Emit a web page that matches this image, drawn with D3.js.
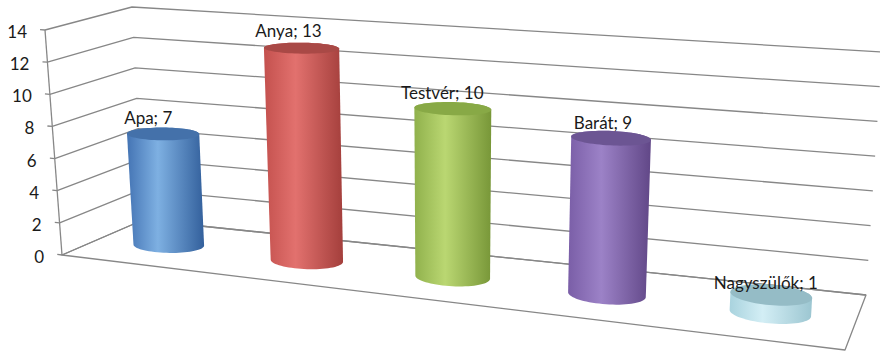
<!DOCTYPE html>
<html>
<head>
<meta charset="utf-8">
<script src="https://cdn.jsdelivr.net/npm/d3@7"></script>
<style>
  html, body { margin: 0; padding: 0; background: #fff; }
  svg { display: block; }
  text { font-family: Lato, "Open Sans", sans-serif; fill: #1a1a1a; }
</style>
</head>
<body>
<script>
// Who the respondents named (category -> count)
const categories = ["Apa", "Anya", "Testvér", "Barát", "Nagyszülők"];
const values = [7, 13, 10, 9, 1];
const tickValues = [0, 2, 4, 6, 8, 10, 12, 14];
const maxValue = 14;

// Cylinder colours: side gradient (edge, highlight, far edge) and top face
const sideLeft  = ["#4474b4", "#c4514e", "#90b14c", "#7a5ea7", "#a9d3de"];
const sideLight = ["#7eb0e2", "#e2716e", "#bad772", "#9c82c7", "#d3eef5"];
const sideRight = ["#33609c", "#a43f3c", "#789738", "#614787", "#9cc6d1"];
const topFill   = ["#4471aa", "#a94946", "#88a946", "#6c5593", "#95bcc6"];

const W = 880, H = 352;
const svg = d3.select("body").append("svg").attr("width", W).attr("height", H);
svg.append("rect").attr("width", W).attr("height", H).attr("fill", "#fff");
const defs = svg.append("defs");

// Screen positions of the plot box corners (f/b = front/back, l/r, b/t = bottom/top)
const box = {
  flb: [62, 255], flt: [45, 30],
  blb: [143, 220], blt: [132, 7],
  frb: [845, 350], frt: [862, 83],
  brb: [866, 295], brt: [882, 52]
};
const K = 0.131; // perspective foreshortening along the category axis

function lerp(a, b, t) { return [a[0] + (b[0] - a[0]) * t, a[1] + (b[1] - a[1]) * t]; }
// World (X in [0,1] across, Y in [0,1] up, Z in [0,1] front->back) to screen
function proj(X, Y, Z) {
  const u = (1 - K) * X / (1 - K * X);
  const fb = lerp(box.flb, box.frb, u), ft = lerp(box.flt, box.frt, u);
  const bb = lerp(box.blb, box.brb, u), bt = lerp(box.blt, box.brt, u);
  return lerp(lerp(fb, ft, Y), lerp(bb, bt, Y), Z);
}

const x = d3.scaleBand().domain(categories).range([0, 1]).padding(0);
const y = d3.scaleLinear().domain([0, maxValue]).range([0, 1]);
const line = d3.line();

const grid = svg.append("g")
  .attr("fill", "none").attr("stroke", "#878787").attr("stroke-width", 1.3)
  .attr("stroke-linejoin", "round");

// Floor
grid.append("path")
  .attr("d", line([proj(0, 0, 0), proj(1, 0, 0), proj(1, 0, 1), proj(0, 0, 1)]) + "Z")
  .attr("fill", "#fff");

// Gridlines on the left and back walls
tickValues.forEach(v => {
  grid.append("path").attr("d", line([proj(0, y(v), 0), proj(0, y(v), 1), proj(1, y(v), 1)]));
});

// Value axis line and ticks
grid.append("path").attr("d", line([proj(0, 0, 0), proj(0, 1, 0)]));
tickValues.forEach(v => {
  grid.append("path").attr("d", line([proj(-0.007, y(v), 0), proj(0, y(v), 0)]));
});

svg.append("g").selectAll("text").data(tickValues).join("text")
  .attr("x", v => proj(0, y(v), 0)[0] - 18)
  .attr("y", v => proj(0, y(v), 0)[1] + 8)
  .attr("text-anchor", "end")
  .attr("font-size", 17)
  .text(v => v);

// Cylinders
const rx = 0.048, rz = 0.19, zc = 0.5, N = 72;
const bars = svg.append("g");
categories.forEach((c, i) => {
  const xc = x(c) + x.bandwidth() / 2;
  const top = y(values[i]);
  const ring = h => d3.range(N).map(k => {
    const t = 2 * Math.PI * k / N;
    return proj(xc + rx * Math.cos(t), h, zc + rz * Math.sin(t));
  });
  const bottomPts = ring(0), topPts = ring(top);
  const hull = d3.polygonHull(bottomPts.concat(topPts));
  const [x0, x1] = d3.extent(hull, p => p[0]);

  const gid = "side" + i;
  const g = defs.append("linearGradient").attr("id", gid)
    .attr("gradientUnits", "userSpaceOnUse")
    .attr("x1", x0).attr("x2", x1).attr("y1", 0).attr("y2", 0);
  g.append("stop").attr("offset", "0%").attr("stop-color", sideLeft[i]);
  g.append("stop").attr("offset", "40%").attr("stop-color", sideLight[i]);
  g.append("stop").attr("offset", "100%").attr("stop-color", sideRight[i]);

  bars.append("path").attr("d", line(hull) + "Z").attr("fill", `url(#${gid})`);
  bars.append("path").attr("d", line(topPts) + "Z").attr("fill", topFill[i]);
});

// Data labels: "category; value" above the front of each cylinder top
svg.append("g").selectAll("text").data(categories).join("text")
  .attr("x", (c, i) => proj(x(c) + x.bandwidth() / 2, y(values[i]), zc - rz)[0])
  .attr("y", (c, i) => proj(x(c) + x.bandwidth() / 2, y(values[i]), zc - rz)[1] - 16)
  .attr("text-anchor", "middle")
  .attr("font-size", 17)
  .text((c, i) => `${c}; ${values[i]}`);
</script>
</body>
</html>
